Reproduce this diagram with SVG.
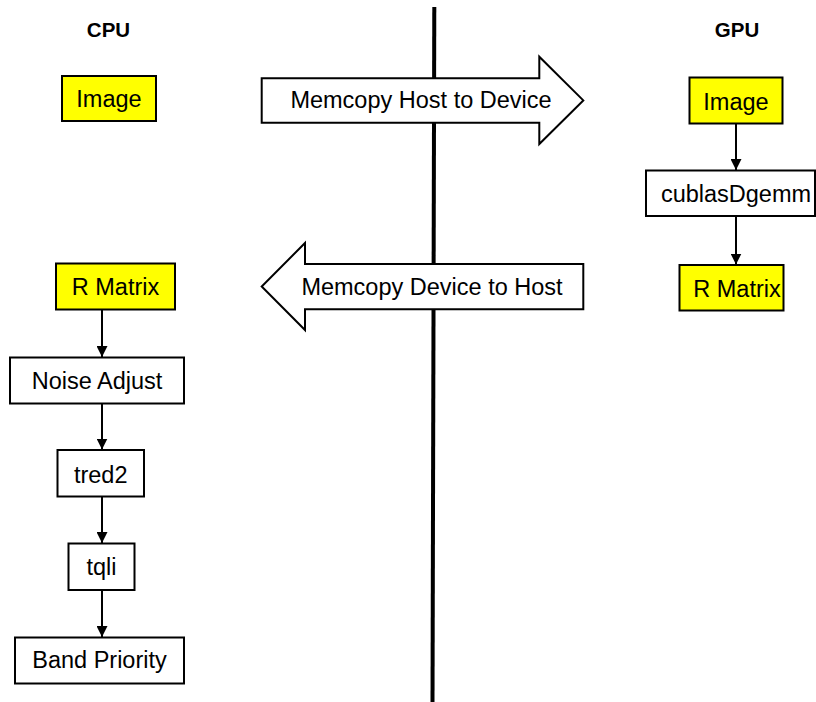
<svg xmlns="http://www.w3.org/2000/svg" width="816" height="702" viewBox="0 0 816 702">
  <defs>
    <marker id="head" viewBox="0 0 11 11" refX="11" refY="5.5" markerWidth="11" markerHeight="11" markerUnits="userSpaceOnUse" orient="auto">
      <path d="M0,0 L11,5.5 L0,11 Z" fill="#000"/>
    </marker>
    <style>
      .box { stroke: #000; stroke-width: 2; }
      .yellow { fill: #ffff00; }
      .white { fill: #ffffff; }
      .lbl { font-family: "Liberation Sans", Arial, sans-serif; font-size: 23.5px; fill: #000; text-anchor: middle; }
      .title { font-family: "Liberation Sans", Arial, sans-serif; font-size: 20.5px; font-weight: bold; fill: #000; text-anchor: middle; }
      .flow { stroke: #000; stroke-width: 2; fill: none; marker-end: url(#head); }
      .bigarrow { fill: #fff; stroke: #000; stroke-width: 2; stroke-linejoin: miter; }
    </style>
  </defs>
  <rect width="816" height="702" fill="#fff"/>

  <!-- host / device divider -->
  <line id="divider" x1="434.3" y1="7" x2="432.5" y2="702" stroke="#000" stroke-width="4"/>

  <text class="title" x="108.5" y="37">CPU</text>
  <text class="title" x="737" y="37">GPU</text>

  <!-- transfer arrows -->
  <g id="h2d">
    <path class="bigarrow" d="M261.7,78.3 L539.3,78.3 L539.3,56.7 L583.3,100.4 L539.3,144 L539.3,122.7 L261.7,122.7 Z"/>
    <text class="lbl" x="421" y="108">Memcopy Host to Device</text>
  </g>
  <g id="d2h">
    <path class="bigarrow" d="M583.3,264 L305,264 L305,243 L261.7,286.5 L305,330 L305,309.3 L583.3,309.3 Z"/>
    <text class="lbl" x="432" y="295">Memcopy Device to Host</text>
  </g>

  <!-- CPU side -->
  <g id="cpu-image">
    <rect class="box yellow" x="62" y="76" width="94" height="45"/>
    <text class="lbl" x="109" y="107">Image</text>
  </g>
  <g id="cpu-rmatrix">
    <rect class="box yellow" x="56" y="263.5" width="119" height="46"/>
    <text class="lbl" x="115.5" y="295">R Matrix</text>
  </g>
  <g id="noise-adjust">
    <rect class="box white" x="10" y="357.5" width="174" height="46"/>
    <text class="lbl" x="97" y="388.5">Noise Adjust</text>
  </g>
  <g id="tred2">
    <rect class="box white" x="57.5" y="450" width="86.5" height="46.5"/>
    <text class="lbl" x="100.7" y="483">tred2</text>
  </g>
  <g id="tqli">
    <rect class="box white" x="68.5" y="543.5" width="66" height="46.5"/>
    <text class="lbl" x="101.5" y="575">tqli</text>
  </g>
  <g id="band-priority">
    <rect class="box white" x="15" y="637.5" width="169" height="46"/>
    <text class="lbl" x="99.5" y="668">Band Priority</text>
  </g>

  <!-- GPU side -->
  <g id="gpu-image">
    <rect class="box yellow" x="689.5" y="77.5" width="93" height="46"/>
    <text class="lbl" x="736" y="109.5">Image</text>
  </g>
  <g id="cublas">
    <rect class="box white" x="646" y="170.5" width="169" height="45.5"/>
    <text class="lbl" x="736" y="201.5">cublasDgemm</text>
  </g>
  <g id="gpu-rmatrix">
    <rect class="box yellow" x="679.5" y="265" width="104" height="45.5"/>
    <text class="lbl" x="737" y="297">R Matrix</text>
  </g>

  <!-- flow connectors -->
  <g id="connectors">
    <line class="flow" x1="102" y1="310" x2="102" y2="357"/>
    <line class="flow" x1="102" y1="404" x2="102" y2="449.5"/>
    <line class="flow" x1="102" y1="497" x2="102" y2="543"/>
    <line class="flow" x1="102" y1="590.5" x2="102" y2="637"/>
    <line class="flow" x1="736" y1="124" x2="736" y2="170"/>
    <line class="flow" x1="736" y1="216.5" x2="736" y2="264.5"/>
  </g>
</svg>
